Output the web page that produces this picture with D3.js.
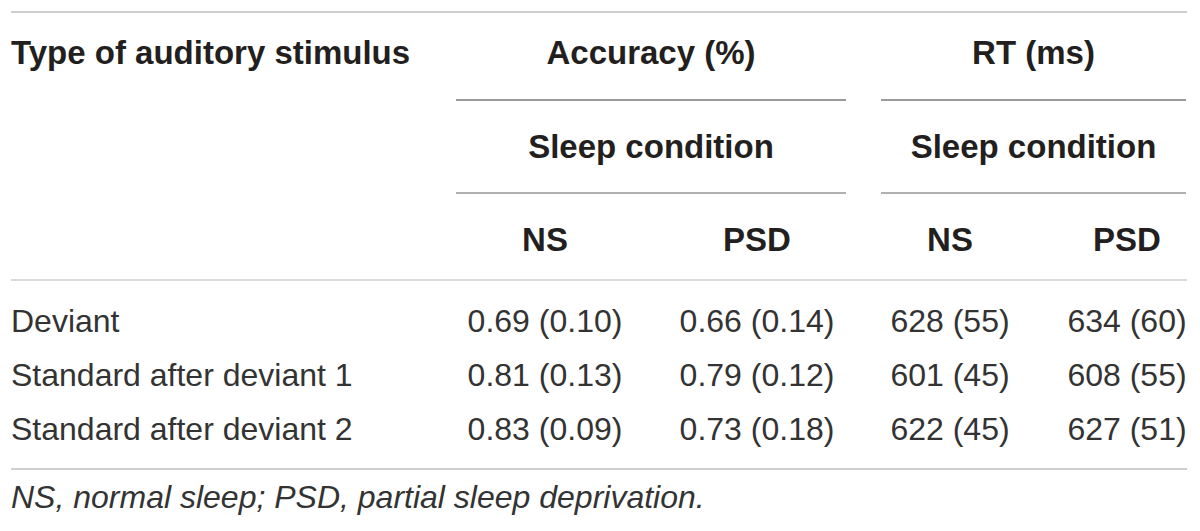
<!DOCTYPE html>
<html>
<head>
<meta charset="utf-8">
<script src="https://cdn.jsdelivr.net/npm/d3@7"></script>
<style>
  html, body { margin: 0; padding: 0; background: #fff; }
  svg { display: block; font-family: "Liberation Sans", Arial, Helvetica, sans-serif; }
</style>
</head>
<body>
<div id="chart"></div>
<script>
// table content
const stimuli = ['Deviant', 'Standard after deviant 1', 'Standard after deviant 2'];
const measures = ['Accuracy (%)', 'RT (ms)'];
const conditions = ['NS', 'PSD'];
const accNSMean = [0.69, 0.81, 0.83];
const accNSSD = [0.10, 0.13, 0.09];
const accPSDMean = [0.66, 0.79, 0.73];
const accPSDSD = [0.14, 0.12, 0.18];
const rtNSMean = [628, 601, 622];
const rtNSSD = [55, 45, 45];
const rtPSDMean = [634, 608, 627];
const rtPSDSD = [60, 55, 51];
const footnote = 'NS, normal sleep; PSD, partial sleep deprivation.';

const width = 1200, height = 531;
const left = 11, right = 1187;

const svg = d3.select('#chart').append('svg')
    .attr('width', width)
    .attr('height', height);

const fmt2 = d3.format('.2f');
const fmt0 = d3.format('d');

// one entry per value column
const columns = [
    { measure: measures[0], cond: conditions[0], mean: accNSMean, sd: accNSSD, f: fmt2 },
    { measure: measures[0], cond: conditions[1], mean: accPSDMean, sd: accPSDSD, f: fmt2 },
    { measure: measures[1], cond: conditions[0], mean: rtNSMean, sd: rtNSSD, f: fmt0 },
    { measure: measures[1], cond: conditions[1], mean: rtPSDMean, sd: rtPSDSD, f: fmt0 }
];

const colX = d3.scaleOrdinal()
    .domain(d3.range(columns.length))
    .range([545, 757, 950, 1127]);

// span of each measure group
const groupSpan = d3.scaleOrdinal()
    .domain(measures)
    .range([[456, 846], [881, 1186]]);

const rowY = d3.scalePoint()
    .domain(stimuli)
    .range([332, 440]);

const ink = '#231f20';

// rules
const rule = (x1, x2, y, color) => svg.append('line')
    .attr('x1', x1).attr('x2', x2)
    .attr('y1', y).attr('y2', y)
    .attr('stroke', color)
    .attr('stroke-width', 2);

rule(left, right, 12, '#cfcfcf');
rule(left, right, 280, '#dadada');
rule(left, right, 469, '#cfcfcf');

measures.forEach(m => {
    const [a, b] = groupSpan(m);
    rule(a, b, 100, '#9a9a9a');
    rule(a, b, 193, '#b0b0b0');
});

// header text
const head = svg.append('g')
    .style('font-weight', 'bold')
    .style('font-size', '33px')
    .attr('fill', ink);

head.append('text')
    .attr('x', left)
    .attr('y', 64)
    .text('Type of auditory stimulus');

head.selectAll('text.measure')
    .data(measures)
    .enter().append('text')
    .attr('class', 'measure')
    .attr('x', d => d3.mean(groupSpan(d)))
    .attr('y', 64)
    .attr('text-anchor', 'middle')
    .text(d => d);

head.selectAll('text.sleep')
    .data(measures)
    .enter().append('text')
    .attr('class', 'sleep')
    .attr('x', d => d3.mean(groupSpan(d)))
    .attr('y', 158)
    .attr('text-anchor', 'middle')
    .text('Sleep condition');

head.selectAll('text.cond')
    .data(columns)
    .enter().append('text')
    .attr('class', 'cond')
    .attr('x', (d, i) => colX(i))
    .attr('y', 251)
    .attr('text-anchor', 'middle')
    .text(d => d.cond);

// body (reference uses a light face, so a softer ink)
const bodyG = svg.append('g')
    .style('font-size', '32px')
    .attr('fill', '#333');

bodyG.selectAll('text.stim')
    .data(stimuli)
    .enter().append('text')
    .attr('class', 'stim')
    .attr('x', left)
    .attr('y', d => rowY(d))
    .text(d => d);

columns.forEach((c, i) => {
    bodyG.selectAll(`text.val${i}`)
        .data(stimuli)
        .enter().append('text')
        .attr('class', `val${i}`)
        .attr('x', colX(i))
        .attr('y', d => rowY(d))
        .attr('text-anchor', 'middle')
        .text((d, j) => `${c.f(c.mean[j])} (${c.f(c.sd[j])})`);
});

// footnote
svg.append('text')
    .attr('x', left)
    .attr('y', 508)
    .style('font-size', '32px')
    .style('font-style', 'italic')
    .attr('fill', '#333')
    .text(footnote);
</script>
</body>
</html>
